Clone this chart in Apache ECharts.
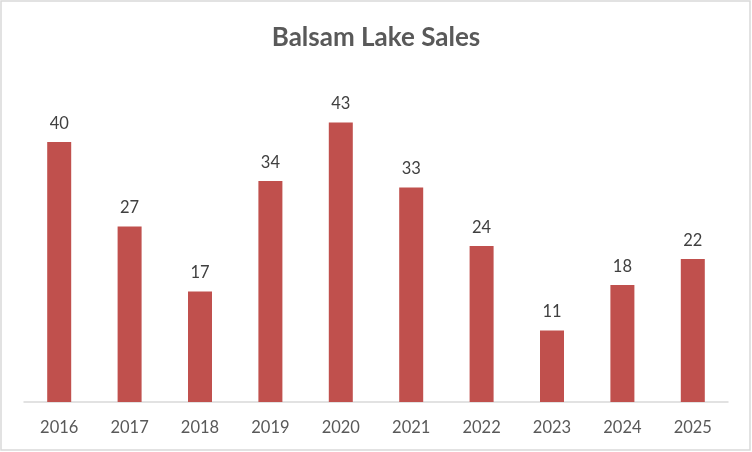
<!DOCTYPE html>
<html><head><meta charset="utf-8">
<script src="https://cdn.jsdelivr.net/npm/echarts@6/dist/echarts.min.js"></script>
<style>html,body{margin:0;padding:0;background:#fff}#c{width:752px;height:452px}</style>
</head><body><div id="c"></div>
<script>
const categories = ['2016','2017','2018','2019','2020','2021','2022','2023','2024','2025'];
const sales = [40, 27, 17, 34, 43, 33, 24, 11, 18, 22];
const titleText = 'Balsam Lake Sales';

const chart = echarts.init(document.getElementById('c'), null, {renderer:'canvas'});
chart.setOption({
  animation: false,
  backgroundColor: '#fff',
  title: {
    text: titleText, left: 'center', top: 20,
    textStyle: {fontFamily: 'Lato', fontWeight: 'bold', fontSize: 26, color: '#595959'}
  },
  graphic: [{
    type: 'rect', silent: true, z: 100,
    shape: {x: 1, y: 1, width: 749, height: 449},
    style: {fill: 'none', stroke: '#D9D9D9', lineWidth: 1.5}
  }],
  grid: {left: 24, right: 24, top: 77, bottom: 50},
  xAxis: {
    type: 'category', data: categories,
    axisLine: {lineStyle: {color: '#D9D9D9', width: 1.5}},
    axisTick: {show: false},
    axisLabel: {fontFamily: 'Lato', fontSize: 16.5, color: '#595959', margin: 17}
  },
  yAxis: {type: 'value', min: 0, max: 50, show: false, splitLine: {show: false}},
  series: [{
    type: 'bar', data: sales, barWidth: 24,
    itemStyle: {color: '#C0504D'},
    label: {show: true, position: 'top', distance: 10, fontFamily: 'Lato', fontSize: 16.5, color: '#404040'}
  }]
});
</script></body></html>
